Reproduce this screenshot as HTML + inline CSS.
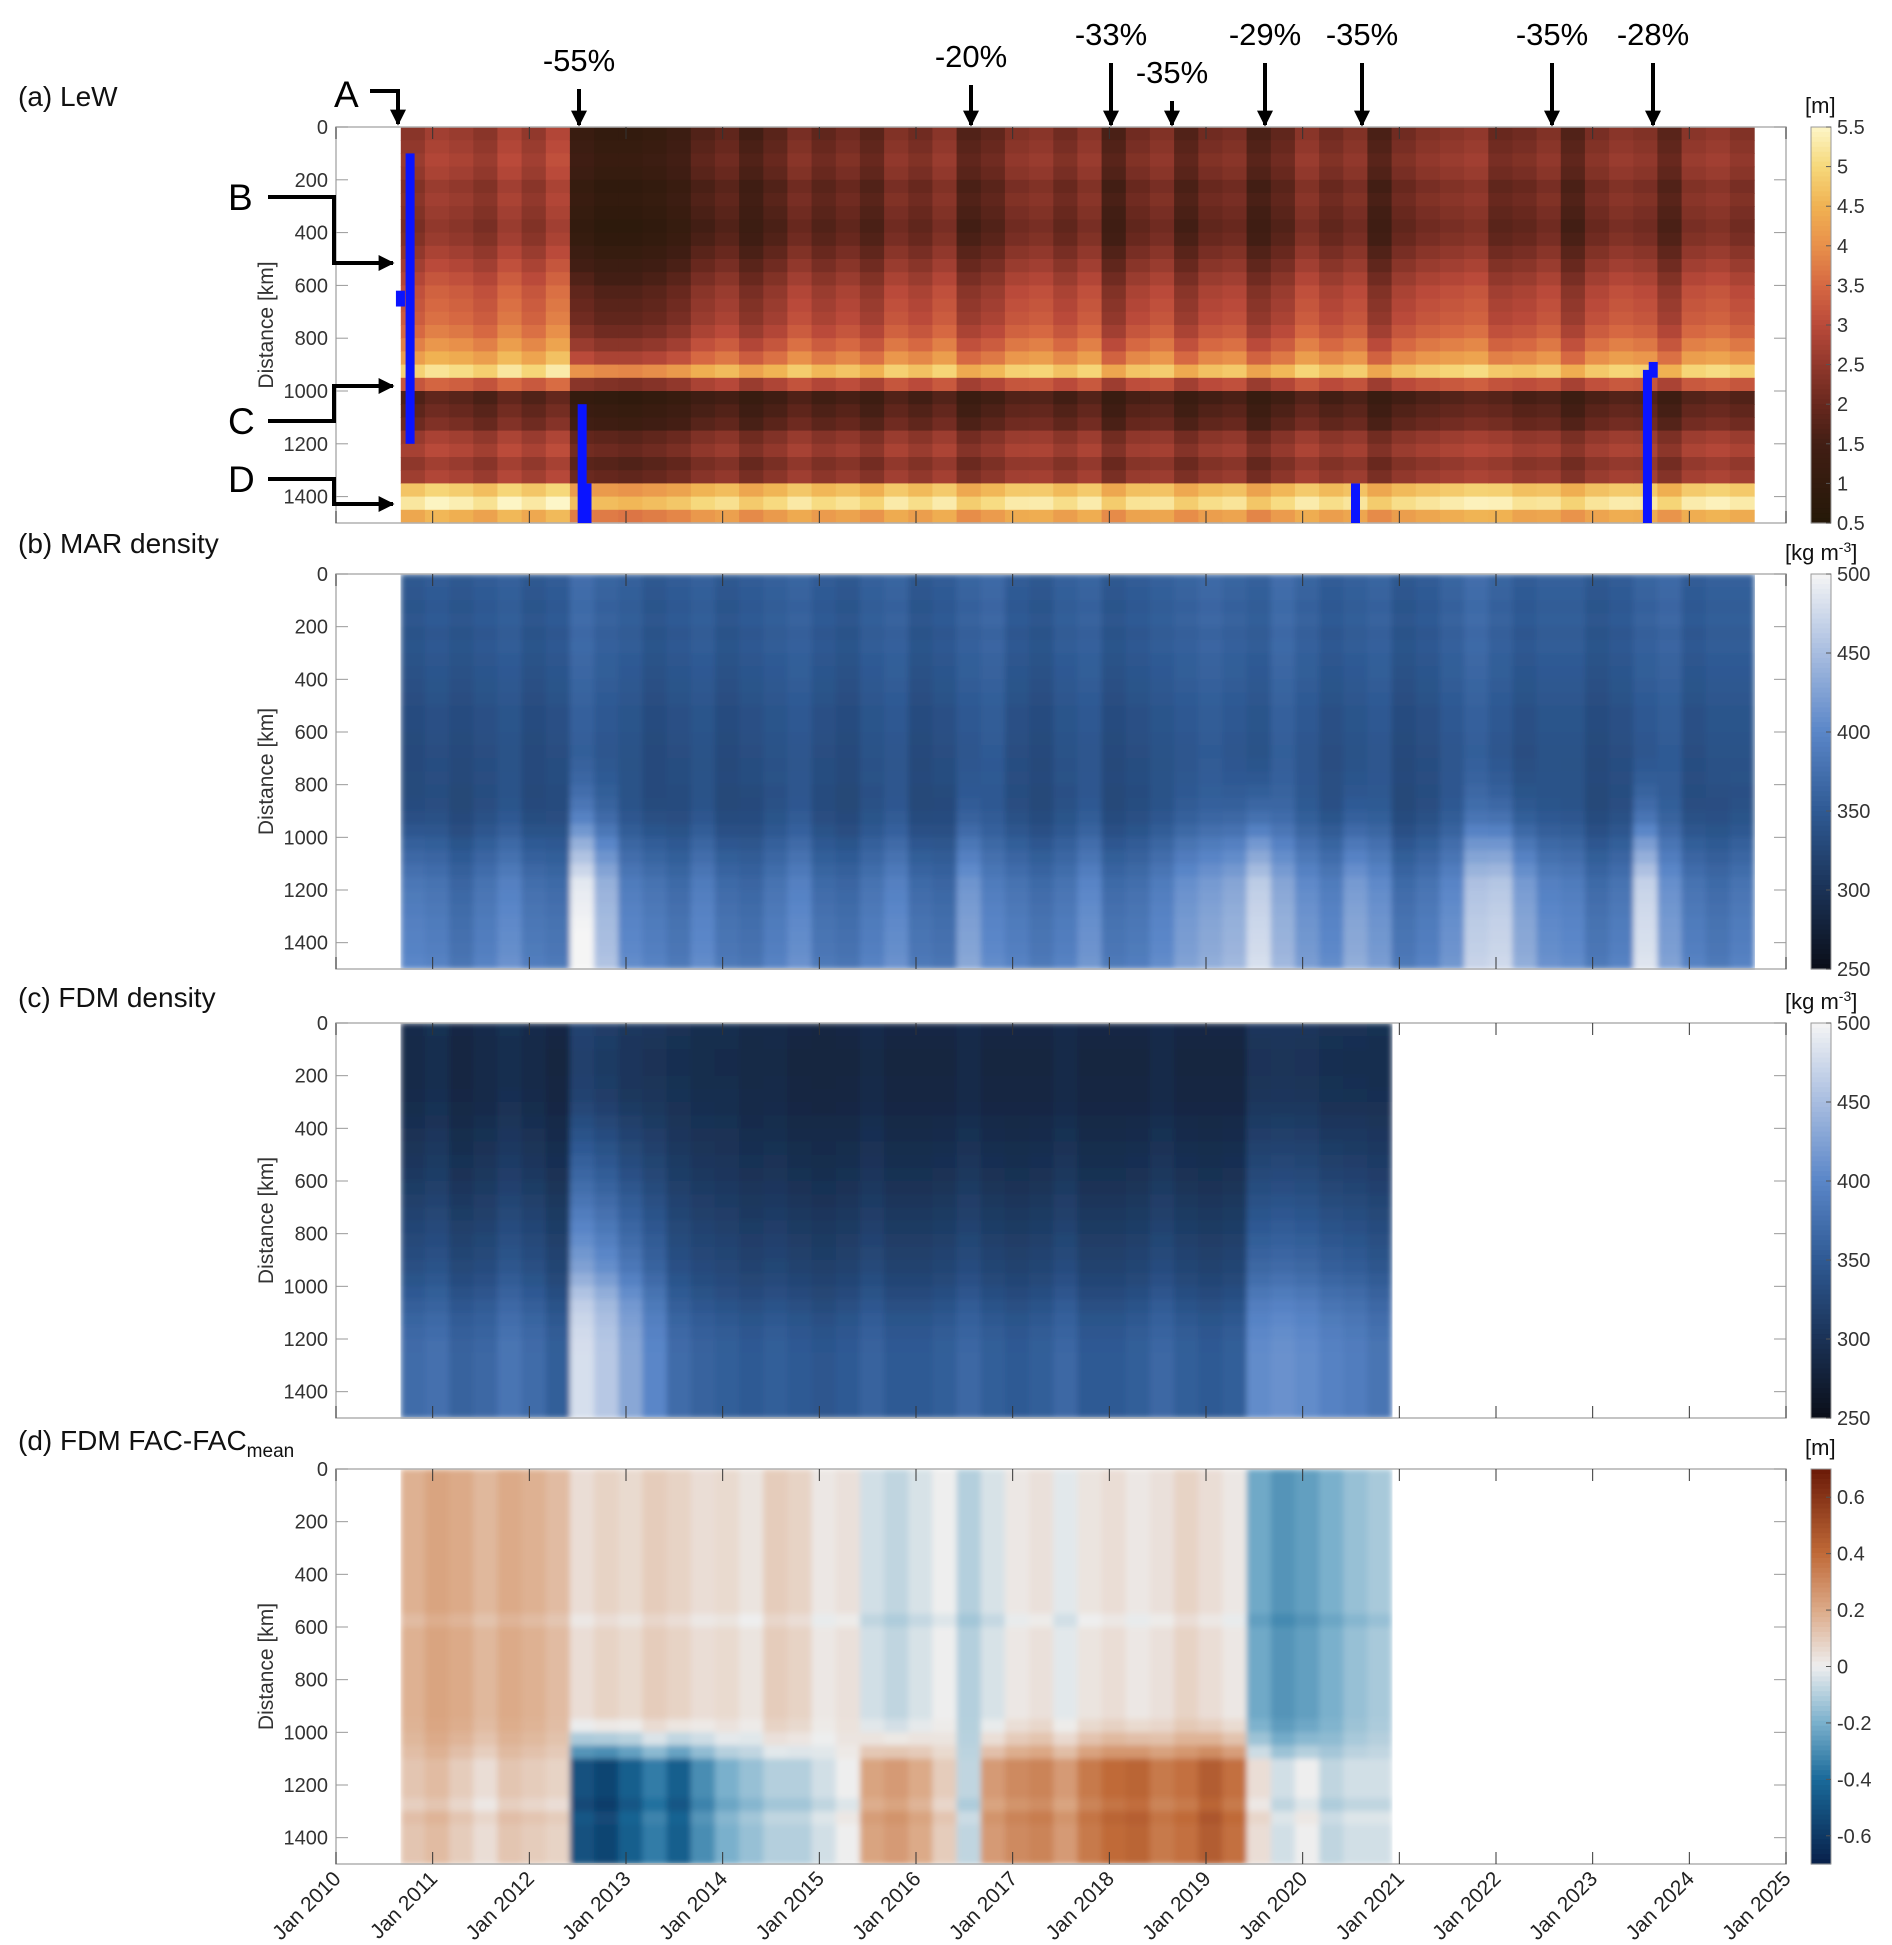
<!DOCTYPE html>
<html><head><meta charset="utf-8">
<style>
html,body{margin:0;padding:0;background:#fff;}
svg{display:block;font-family:"Liberation Sans",Arial,sans-serif;}
</style></head>
<body>
<svg id="fig" width="1892" height="1945" viewBox="0 0 1892 1945" xmlns="http://www.w3.org/2000/svg">
<defs>
<marker id="ah" viewBox="0 0 10 10" refX="9" refY="5" markerWidth="4" markerHeight="4" orient="auto"><path d="M0,0 L10,5 L0,10 z" fill="#000"/></marker>
<filter id="sm" x="0" y="0" width="1" height="1"><feGaussianBlur stdDeviation="3"/></filter>
</defs>
<g id="layer"></g>
</svg>
<script>
// ---------- data ----------
const rowDist = [25,75,125,175,225,275,325,375,425,475,525,575,625,675,725,775,825,875,925,975,1025,1075,1125,1175,1225,1275,1325,1375,1425,1475];
const timesAB = [2010.67,2010.92,2011.17,2011.42,2011.67,2011.92,2012.17,2012.42,2012.67,2012.92,2013.17,2013.42,2013.67,2013.92,2014.17,2014.42,2014.67,2014.92,2015.17,2015.42,2015.67,2015.92,2016.17,2016.42,2016.67,2016.92,2017.17,2017.42,2017.67,2017.92,2018.17,2018.42,2018.67,2018.92,2019.17,2019.42,2019.67,2019.92,2020.17,2020.42,2020.67,2020.92,2021.17,2021.42,2021.67,2021.92,2022.17,2022.42,2022.67,2022.92,2023.17,2023.42,2023.67,2023.92,2024.17,2024.42];
const timesCD = timesAB.slice(0,41);

// (a) LeW [m]
const lewRows = [2.1,2.2,2.3,2.2,2.0,2.1,2.0,1.9,2.0,2.2,2.4,2.6,2.8,2.9,3.0,3.2,3.5,3.9,4.7,3.0,1.5,1.7,1.9,2.4,2.6,2.3,2.5,4.6,5.1,4.2];
const lewWeight = [1,1,1,1,1,1,1,1,1,1,1,1,1,1,1,1,1,1,0.6,0.5,0.3,0.3,0.3,0.3,0.3,0.3,0.3,0.2,0.2,0.2];
const lewTop = [0.3,0.6,0.5,0.3,0.7,0.4,0.8,-0.9,-1.1,-1.1,-1.0,-0.8,-0.4,-0.2,-0.6,-0.3,0.1,-0.2,0.0,-0.3,0.2,0.0,0.3,-0.4,-0.2,0.2,0.3,0.0,0.3,-0.5,0.0,0.2,-0.4,0.0,0.1,-0.5,-0.2,0.3,0.0,0.2,-0.5,0.0,0.2,0.3,0.4,-0.1,0.0,0.2,-0.4,0.1,0.3,0.2,-0.3,0.3,0.4,0.2];
const lewBot = [0.1,0.3,0.2,0.0,0.3,0.1,0.3,-0.3,-0.3,-0.4,-0.3,-0.2,0.0,0.1,-0.2,0.0,0.2,0.0,0.1,-0.1,0.2,0.0,0.2,-0.2,0.0,0.2,0.2,0.0,0.2,-0.2,0.1,0.1,-0.2,0.0,0.1,-0.3,0.0,0.2,0.0,0.1,-0.2,0.0,0.1,0.2,0.3,0.4,0.1,0.1,-0.1,0.1,0.2,0.2,-0.1,0.2,0.3,0.2];
const gapT = [2010.72,2010.62,2012.5,2012.55,2023.52,2020.5,2023.58];
const gapD0 = [100,620,1050,1350,920,1350,890];
const gapD1 = [1200,680,1500,1500,1500,1500,950];

// (b) MAR density [kg m-3]
const marRows = [352,350,348,350,346,348,345,344,342,340,338,338,336,335,334,334,332,332,335,340,348,355,362,368,372,375,378,380,382,385];
const marWeight = [0,0,0,0,0,0,0,0,0,0,0,0,0,0,0.05,0.1,0.2,0.3,0.4,0.55,0.7,0.8,0.9,1,1,1,1,1,1,1];
const marTop = [-5,0,-5,0,5,-5,0,20,10,5,-5,0,5,-5,0,5,10,0,-5,5,10,-5,0,10,15,0,-5,5,10,-5,0,5,10,15,10,5,20,10,0,5,10,-5,0,10,20,10,0,5,5,-5,0,10,15,0,5,5];
const marBot = [15,10,-5,10,25,5,0,120,70,20,10,0,20,0,-5,10,25,0,-5,10,25,0,-5,45,20,10,0,10,30,0,5,20,40,50,60,95,60,35,20,50,35,0,10,30,85,90,50,25,20,0,10,100,40,10,0,10];

// (c) FDM density [kg m-3]
const fdmRows = [290,288,287,287,288,289,290,292,294,296,298,300,303,306,309,312,315,318,321,325,330,336,342,346,349,350,350,350,350,350];
const fdmWeight = [0.1,0.1,0.1,0.1,0.1,0.1,0.15,0.2,0.25,0.3,0.35,0.4,0.45,0.5,0.55,0.6,0.65,0.7,0.75,0.85,0.95,1,1,1,1,1,1,1,1,1];
const fdmTop = [0,5,-5,0,5,0,-5,20,15,10,10,8,5,5,0,0,-5,-5,-5,0,-5,-5,-5,0,-5,-5,-5,0,-5,-5,-5,0,-5,-5,-5,10,10,10,5,5,5];
const fdmBot = [20,25,10,15,30,20,5,130,110,80,50,20,10,5,0,5,0,-5,0,10,0,0,5,15,5,0,5,15,0,0,5,15,5,0,5,55,60,55,45,40,30];

// (d) FDM FAC - FAC_mean [m]
const facRows = [0,0,0,0,0,0,0,0,0,0,0,-0.03,0,0,0,0,0,0,0,0,0,0,0,0,0,-0.03,0.02,0,0,0];
const facWeight = [0,0,0,0,0,0,0,0,0,0,0,0,0,0,0,0,0,0,0,0.1,0.3,0.6,1,1,1,1,1,1,1,1];
const facTop = [0.18,0.22,0.2,0.16,0.2,0.18,0.15,0.05,0.08,0.06,0.1,0.08,0.05,0.06,0.03,0.1,0.08,0.02,0.04,-0.05,-0.08,-0.04,0.0,-0.1,-0.04,0.02,0.04,-0.02,0.03,0.05,0.02,0.04,0.08,0.05,0.02,-0.22,-0.28,-0.25,-0.2,-0.15,-0.12];
const facBot = [0.12,0.15,0.1,0.05,0.12,0.1,0.08,-0.5,-0.55,-0.45,-0.35,-0.45,-0.3,-0.2,-0.15,-0.1,-0.1,-0.05,0.0,0.22,0.25,0.2,0.1,-0.08,0.25,0.3,0.32,0.25,0.35,0.4,0.42,0.35,0.38,0.45,0.38,0.05,-0.05,0.0,-0.08,-0.05,-0.05];

const pctLabels = ["-55%","-20%","-33%","-35%","-29%","-35%","-35%","-28%"];
const pctX = [579,971,1111,1172,1265,1362,1552,1653];
const pctBase = [71,67,45,83,45,45,45,45];
const yearTicks = [2010,2011,2012,2013,2014,2015,2016,2017,2018,2019,2020,2021,2022,2023,2024,2025];
const distTicks = [0,200,400,600,800,1000,1200,1400];

// ---------- geometry ----------
const NS="http://www.w3.org/2000/svg";
const layer=document.getElementById('layer');
const AX_L=336, AX_R=1786, T0=2010, T1=2025;
const xs = t => AX_L + (t-T0)/(T1-T0)*(AX_R-AX_L);
function mk(tag,attrs,parent){const e=document.createElementNS(NS,tag);for(const k in attrs)e.setAttribute(k,attrs[k]);(parent||layer).appendChild(e);return e;}
function lerpC(stops,v){
  if(v<=stops[0][0])return stops[0][1];
  for(let i=1;i<stops.length;i++){if(v<=stops[i][0]){const a=stops[i-1],b=stops[i];const f=(v-a[0])/(b[0]-a[0]);
    return [0,1,2].map(j=>Math.round(a[1][j]+(b[1][j]-a[1][j])*f));}}
  return stops[stops.length-1][1];
}
const cmapLew=[[0.5,[36,24,8]],[1.5,[66,30,20]],[2.0,[104,40,30]],[2.5,[145,56,44]],[3.0,[186,74,58]],[3.5,[214,104,66]],[4.0,[232,144,74]],[4.5,[240,178,82]],[5.0,[246,216,122]],[5.5,[253,246,200]]];
const cmapDen=[[250,[10,14,24]],[300,[26,50,86]],[350,[47,90,148]],[400,[90,134,200]],[450,[168,189,224]],[500,[245,245,245]]];
const cmapFac=[[-0.7,[8,32,74]],[-0.4,[26,106,154]],[-0.2,[122,176,204]],[0,[238,238,238]],[0.2,[220,170,136]],[0.4,[192,106,56]],[0.7,[106,26,8]]];
const rgb=c=>`rgb(${c[0]},${c[1]},${c[2]})`;

function panel(opt){
  const {name,top,bot,times,rows,weight,colTop,colBot,cmap,vmin,vmax,ticksCb,cbUnit,title,blur}=opt;
  const g=mk('g',{});
  
  
  const ys=d=>top+d/1500*(bot-top);
  const hm=mk('g',blur?{filter:'url(#sm)'}:{},g);
  
  
  const dt=0.25;
  for(let c=0;c<times.length;c++){
    const x0=xs(times[c]), x1=xs(times[c]+dt);
    for(let r=0;r<rows.length;r++){
      const w=weight[r];
      const vv = opt.topWeighted ? rows[r] + colTop[c]*w + colBot[c]*(1-w) : rows[r] + colTop[c]*(1-w) + colBot[c]*w;
      const rc=mk('rect',{x:x0.toFixed(1),y:ys(rowDist[r]-25).toFixed(1),width:(x1-x0+0.6).toFixed(1),height:(ys(50)-ys(0)+0.6).toFixed(1),fill:rgb(lerpC(cmap,vv))},hm);
      
      
    }
  }
  const box=mk('rect',{x:AX_L,y:top,width:AX_R-AX_L,height:bot-top,fill:'none',stroke:'#b0b0b0','stroke-width':1.5},g);
  
  
  yearTicks.forEach(t=>{const x=xs(t);
    mk('line',{x1:x,x2:x,y1:bot,y2:bot-12,stroke:'#333','stroke-width':1},g);
    mk('line',{x1:x,x2:x,y1:top,y2:top+12,stroke:'#333','stroke-width':1},g);});
  distTicks.forEach(d=>{const y=ys(d);
    mk('line',{x1:AX_L,x2:AX_L+12,y1:y,y2:y,stroke:'#999','stroke-width':1},g);
    mk('line',{x1:AX_R,x2:AX_R-12,y1:y,y2:y,stroke:'#999','stroke-width':1},g);
    const tl=mk('text',{x:AX_L-8,y:y+7,'font-size':20,'text-anchor':'end',fill:'#333'},g);tl.textContent=d;
    
    });
  const yl=mk('text',{x:0,y:0,'font-size':21,'text-anchor':'middle',fill:'#333',transform:`translate(273,${(top+bot)/2}) rotate(-90)`},g);
  yl.textContent='Distance [km]';
  
  
  const cbx=1811,cbw=20;
  const cb=mk('g',{},g);
  
  
  const n=80;
  for(let i=0;i<n;i++){const v=vmax-(i+0.5)/n*(vmax-vmin);
    mk('rect',{x:cbx,y:top+i*(bot-top)/n,width:cbw,height:(bot-top)/n+0.6,fill:rgb(lerpC(cmap,v))},cb);}
  mk('rect',{x:cbx,y:top,width:cbw,height:bot-top,fill:'none',stroke:'#999','stroke-width':1},cb);
  ticksCb.forEach(v=>{const y=top+(vmax-v)/(vmax-vmin)*(bot-top);
    mk('line',{x1:cbx+cbw,x2:cbx+cbw-5,y1:y,y2:y,stroke:'#555'},cb);
    const t=mk('text',{x:cbx+cbw+6,y:y+7,'font-size':20,fill:'#333'},cb);t.textContent=v;});
  const u=mk('text',{x:cbUnit[1],y:top-14,'font-size':22,fill:'#111'},g);u.innerHTML=cbUnit[0];
  
  
  const ti=mk('text',{x:18,y:opt.titleY,'font-size':28,fill:'#111'},g);ti.innerHTML=title;
  
  
  return {g,ys};
}

const pa=panel({name:'lew',top:127,bot:523,times:timesAB,rows:lewRows,weight:lewWeight,colTop:lewTop,colBot:lewBot,cmap:cmapLew,vmin:0.5,vmax:5.5,ticksCb:[0.5,1,1.5,2,2.5,3,3.5,4,4.5,5,5.5],cbUnit:['[m]',1805],title:'(a) LeW',titleY:106,blur:false,topWeighted:true});
gapT.forEach((t,i)=>{const r=mk('rect',{x:xs(t),y:pa.ys(gapD0[i]),width:9,height:pa.ys(gapD1[i])-pa.ys(gapD0[i]),fill:'#0a14ff'});
  
  });
panel({name:'mar-density',top:574,bot:969,times:timesAB,rows:marRows,weight:marWeight,colTop:marTop,colBot:marBot,cmap:cmapDen,vmin:250,vmax:500,ticksCb:[250,300,350,400,450,500],cbUnit:['[kg m<tspan font-size="14" dy="-8">-3</tspan><tspan dy="8">]</tspan>',1785],title:'(b) MAR density',titleY:553,blur:true});
panel({name:'fdm-density',top:1023,bot:1418,times:timesCD,rows:fdmRows,weight:fdmWeight,colTop:fdmTop,colBot:fdmBot,cmap:cmapDen,vmin:250,vmax:500,ticksCb:[250,300,350,400,450,500],cbUnit:['[kg m<tspan font-size="14" dy="-8">-3</tspan><tspan dy="8">]</tspan>',1785],title:'(c) FDM density',titleY:1007,blur:true});
panel({name:'fdm-fac',top:1469,bot:1864,times:timesCD,rows:facRows,weight:facWeight,colTop:facTop,colBot:facBot,cmap:cmapFac,vmin:-0.7,vmax:0.7,ticksCb:[-0.6,-0.4,-0.2,0,0.2,0.4,0.6],cbUnit:['[m]',1805],title:'(d) FDM FAC-FAC<tspan font-size="19" dy="7">mean</tspan>',titleY:1450,blur:true});

yearTicks.forEach(t=>{const x=xs(t);
  const tx=mk('text',{x:0,y:0,'font-size':21,'text-anchor':'end',fill:'#222',transform:`translate(${x+6},${1880}) rotate(-45)`});
  tx.textContent='Jan '+t;
  
  });

pctLabels.forEach((s,i)=>{
  const t=mk('text',{x:pctX[i],y:pctBase[i],'font-size':31,'text-anchor':'middle',fill:'#000'});t.textContent=s;
  
  
  const a=mk('line',{x1:pctX[i],x2:pctX[i],y1:pctBase[i]+18,y2:125,stroke:'#000','stroke-width':4,'marker-end':'url(#ah)'});
  
  
});
const callLetters=['A','B','C','D'];
const callX=[334,228,228,228];
const callY=[107,210,434,492];
const callPaths=['M370,91 L398,91 L398,124','M268,197 L334,197 L334,263 L393,263','M268,421 L334,421 L334,386 L393,386','M268,479 L334,479 L334,504 L393,504'];
callLetters.forEach((L,i)=>{
  const t=mk('text',{x:callX[i],y:callY[i],'font-size':37,fill:'#000'});t.textContent=L;
  
  
  const p=mk('path',{d:callPaths[i],fill:'none',stroke:'#000','stroke-width':4,'marker-end':'url(#ah)'});
  
  
});
</script>
</body></html>
